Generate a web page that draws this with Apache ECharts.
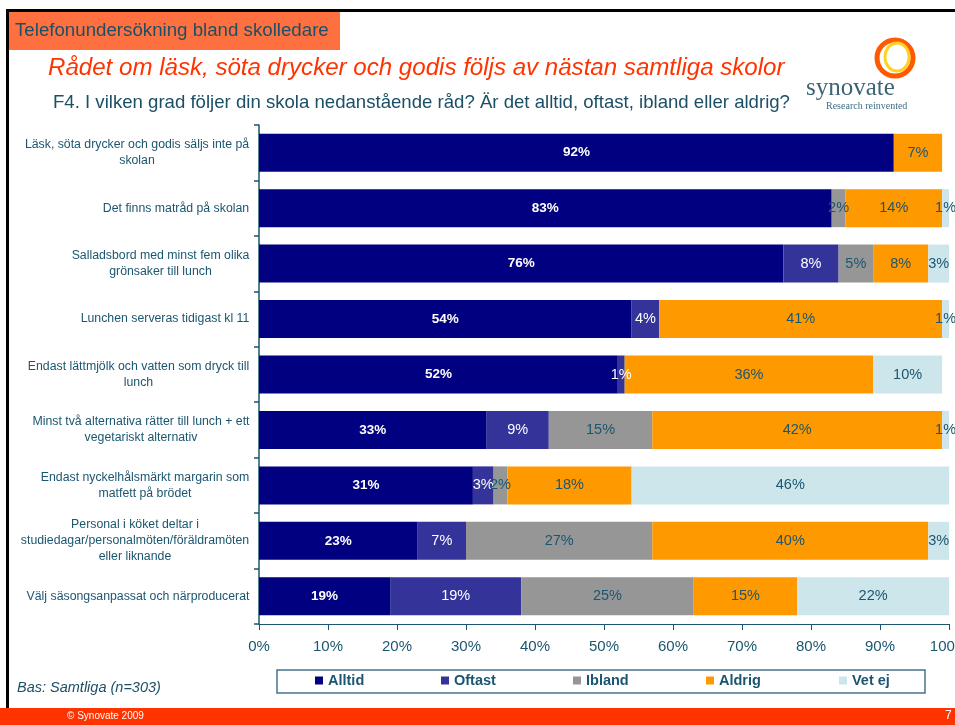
<!DOCTYPE html>
<html>
<head>
<meta charset="utf-8">
<script src="https://cdn.jsdelivr.net/npm/echarts@6/dist/echarts.min.js"></script>
<style>
html,body{margin:0;padding:0;background:#fff;}
#c{width:955px;height:725px;}
</style>
</head>
<body>
<div id="c"></div>
<script>
var categories = [
  "Läsk, söta drycker och godis säljs inte på\nskolan",
  "Det finns matråd på skolan",
  "Salladsbord med minst fem olika\ngrönsaker till lunch",
  "Lunchen serveras tidigast kl 11",
  "Endast lättmjölk och vatten som dryck till\nlunch",
  "Minst två alternativa rätter till lunch + ett\nvegetariskt alternativ",
  "Endast nyckelhålsmärkt margarin som\nmatfett på brödet",
  "Personal i köket deltar i\nstudiedagar/personalmöten/föräldramöten\neller liknande",
  "Välj säsongsanpassat och närproducerat"
];
var alltid = [92, 83, 76, 54, 52, 33, 31, 23, 19];
var oftast = [0, 0, 8, 4, 1, 9, 3, 7, 19];
var ibland = [0, 2, 5, 0, 0, 15, 2, 27, 25];
var aldrig = [7, 14, 8, 41, 36, 42, 18, 40, 15];
var vetej  = [0, 1, 3, 1, 10, 1, 46, 3, 22];
var xTicks = [0, 10, 20, 30, 40, 50, 60, 70, 80, 90, 100];

var FONT = "'Liberation Sans', Arial, sans-serif";
var TEAL = "#1b5670";
var CAT_FS = 12.3;

var cv = document.createElement('canvas').getContext('2d');
cv.font = CAT_FS + "px 'Liberation Sans'";
var rich = {};
categories.forEach(function (c, i) {
  var w = 0;
  c.split('\n').forEach(function (l) { w = Math.max(w, cv.measureText(l).width); });
  rich['r' + i] = { width: Math.ceil(w) + 1, align: 'center', fontSize: CAT_FS, lineHeight: 16, color: TEAL, fontFamily: FONT };
});

var chart = echarts.init(document.getElementById('c'), null, { renderer: 'canvas' });

function mkSeries(name, data, color, labelColor, bold) {
  return {
    name: name, type: 'bar', stack: 'total', data: data, barWidth: 38,
    itemStyle: { color: color },
    label: {
      show: true, position: 'inside',
      color: labelColor, fontSize: bold ? 13.5 : 14.5, fontFamily: FONT, fontWeight: bold ? 'bold' : 'normal',
      formatter: function (p) { return p.value > 0 ? p.value + '%' : ''; }
    },
    emphasis: { disabled: true }
  };
}

var legendNames = ['Alltid', 'Oftast', 'Ibland', 'Aldrig', 'Vet ej'];
var legendLeft = [315, 441, 573, 706, 839];
var legends = legendNames.map(function (n, i) {
  return {
    data: [n], left: legendLeft[i], top: 673, padding: 0,
    itemWidth: 8, itemHeight: 8, icon: 'rect', itemGap: 5,
    textStyle: { color: TEAL, fontSize: 14.5, fontWeight: 'bold', fontFamily: FONT },
    selectedMode: false
  };
});

chart.setOption({
  animation: false,
  backgroundColor: '#ffffff',
  textStyle: { fontFamily: FONT },
  grid: { left: 259, right: 6, top: 125, bottom: 101, containLabel: false, outerBoundsMode: 'none' },
  xAxis: {
    type: 'value', min: 0, max: 100, interval: 10,
    axisLine: { show: true, lineStyle: { color: TEAL, width: 1 } },
    axisTick: { show: true, length: 6, lineStyle: { color: TEAL } },
    splitLine: { show: false },
    axisLabel: { color: TEAL, fontSize: 15, fontFamily: FONT, margin: 15, hideOverlap: false,
      formatter: function (v) { return xTicks.indexOf(v) >= 0 ? v + '%' : ''; } }
  },
  yAxis: {
    type: 'category', data: categories, inverse: true,
    axisLine: { show: true, lineStyle: { color: TEAL, width: 1.5 } },
    axisTick: { show: true, length: 5, alignWithLabel: false, lineStyle: { color: TEAL, width: 1.5 } },
    axisLabel: {
      margin: 9, align: 'right', interval: 0,
      formatter: function (v, idx) {
        return v.split('\n').map(function (l) { return '{r' + idx + '|' + l + '}'; }).join('\n');
      },
      rich: rich
    }
  },
  legend: legends,
  series: [
    mkSeries('Alltid', alltid, '#000080', '#ffffff', true),
    mkSeries('Oftast', oftast, '#333399', '#ffffff', false),
    mkSeries('Ibland', ibland, '#969696', TEAL, false),
    mkSeries('Aldrig', aldrig, '#FF9900', TEAL, false),
    mkSeries('Vet ej', vetej, '#CCE6EC', TEAL, false)
  ],
  graphic: [
    { type: 'rect', shape: { x: 6, y: 9, width: 3, height: 700 }, style: { fill: '#000' }, silent: true },
    { type: 'rect', shape: { x: 6, y: 9, width: 960, height: 3 }, style: { fill: '#000' }, silent: true },
    { type: 'rect', shape: { x: 9, y: 12, width: 331, height: 38 }, style: { fill: '#FF7040' }, silent: true },
    { type: 'text', left: 15, top: 21, style: { text: 'Telefonundersökning bland skolledare', fill: '#1b4f66', font: "18.7px 'Liberation Sans', Arial" }, silent: true },
    { type: 'text', left: 48, top: 56, style: { text: 'Rådet om läsk, söta drycker och godis följs av nästan samtliga skolor', fill: '#FF3300', font: "italic 24.1px 'Liberation Sans', Arial" }, silent: true },
    { type: 'text', left: 53, top: 93, style: { text: 'F4. I vilken grad följer din skola nedanstående råd? Är det alltid, oftast, ibland eller aldrig?', fill: '#1b4f66', font: "18.6px 'Liberation Sans', Arial" }, silent: true },
    { type: 'ellipse', shape: { cx: 895, cy: 58, rx: 18, ry: 18 }, style: { fill: 'none', stroke: '#FF5a00', lineWidth: 5 }, silent: true },
    { type: 'ellipse', shape: { cx: 897, cy: 57, rx: 12, ry: 14 }, style: { fill: 'none', stroke: '#FFD21F', lineWidth: 3 }, silent: true },
    { type: 'text', left: 806, top: 76, style: { text: 'synovate', fill: '#3d6474', font: "25px 'Liberation Serif', 'DejaVu Serif', serif" }, silent: true },
    { type: 'text', left: 826, top: 101, style: { text: 'Research reinvented', fill: '#3d6f82', font: "10px 'Liberation Serif', 'DejaVu Serif', serif" }, silent: true },
    { type: 'rect', shape: { x: 277, y: 670, width: 648, height: 23 }, style: { fill: 'none', stroke: '#44738a', lineWidth: 1.5 }, silent: true },
    { type: 'text', left: 17, top: 680, style: { text: 'Bas: Samtliga (n=303)', fill: '#1b4f66', font: "italic 14.5px 'Liberation Sans', Arial" }, silent: true },
    { type: 'rect', shape: { x: 0, y: 708, width: 955, height: 17 }, style: { fill: '#FF3300' }, silent: true },
    { type: 'text', left: 67, top: 711, style: { text: '© Synovate 2009', fill: '#ffffff', font: "10px 'Liberation Sans', Arial" }, silent: true },
    { type: 'text', left: 945, top: 710, style: { text: '7', fill: '#ffffff', font: "12px 'Liberation Sans', Arial" }, silent: true }
  ]
});
</script>
</body>
</html>
